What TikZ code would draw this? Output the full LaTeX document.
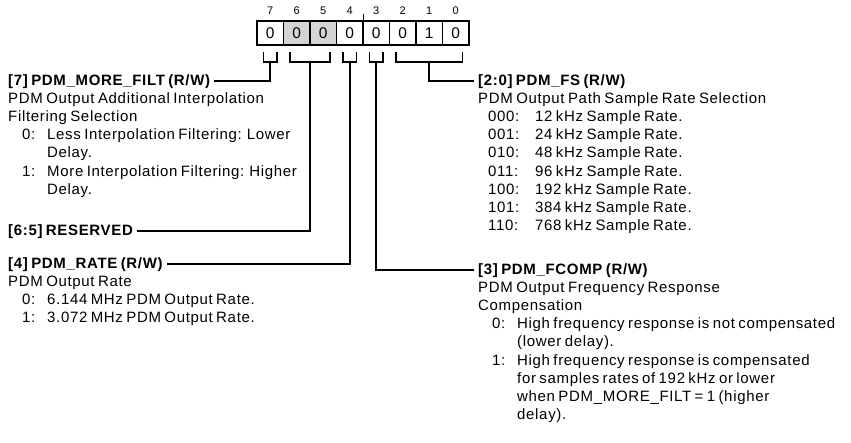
\documentclass[tikz,border=0pt]{standalone}
\usepackage{fontspec}
\setmainfont{Liberation Sans}[LetterSpace=4.5,WordSpace=0.7]
\newcommand\bodysize{\fontsize{15}{18.2}\selectfont}
\newcommand\itm[2]{\hspace*{14pt}\makebox[25pt][l]{#1}#2}
\newcommand\cnt[1]{\hspace*{39pt}#1}
\newcommand\fsitm[2]{\hspace*{10pt}\makebox[47pt][l]{#1}#2}
\begin{document}
\begin{tikzpicture}[x=1pt,y=-1pt,
  body/.style={anchor=base west, inner sep=0pt, font=\bodysize},
  ttl/.style={anchor=base west, inner sep=0pt, font=\bodysize\bfseries},
  bitbox/.style={draw, line width=1.6pt, minimum width=26.5pt, minimum height=24pt, inner sep=0pt, font=\fontsize{15.5}{18}\selectfont},
  bitnum/.style={inner sep=0pt, font=\fontsize{11}{13}\selectfont},
  brk/.style={line width=1.9pt, line join=miter},
  lead/.style={line width=1.9pt, shorten >=4pt}]
\useasboundingbox (0,0) rectangle (851,442);
\definecolor{resgray}{RGB}{212,212,212}
% bit boxes
\foreach \b/\v/\c in {7/0/white,6/0/resgray,5/0/resgray,4/0/white,3/0/white,2/0/white,1/1/white,0/0/white}{
  \node[bitbox, fill=\c] (v\b) at ({270.25+(7-\b)*26.5},33) {\v};
  \node[bitnum] (n\b) at ({270.25+(7-\b)*26.5},11) {\b};
}
\draw[line width=1pt] (v4.north east) -- ++(0,-6);
% brackets
\draw[brk] (263.5,52) -- (263.5,62) -- (277,62) -- (277,52);
\draw[brk] (290,52) -- (290,62) -- (330,62) -- (330,52);
\draw[brk] (343,52) -- (343,62) -- (356.5,62) -- (356.5,52);
\draw[brk] (369.5,52) -- (369.5,62) -- (383,62) -- (383,52);
\draw[brk] (396,52) -- (396,62) -- (462.5,62) -- (462.5,52);
\coordinate (s7) at (270.25,62);
\coordinate (s65) at (310,62);
\coordinate (s4) at (349.75,62);
\coordinate (s3) at (376.25,62);
\coordinate (s20) at (429.25,62);
% left texts
\node[ttl] (t7) at (8,85) {[7] PDM\_MORE\_FILT (R/W)};
\node[body] (d7) at (8,103.2) {\begin{tabular}[t]{@{}l@{}}
PDM Output Additional Interpolation\\
Filtering Selection\\
\itm{0:}{Less Interpolation Filtering: Lower}\\
\cnt{Delay.}\\
\itm{1:}{More Interpolation Filtering: Higher}\\
\cnt{Delay.}
\end{tabular}};
\node[ttl] (t65) at (8,235) {[6:5] RESERVED};
\node[ttl] (t4) at (8,268) {[4] PDM\_RATE (R/W)};
\node[body] (d4) at (8,286.2) {\begin{tabular}[t]{@{}l@{}}
PDM Output Rate\\
\itm{0:}{6.144 MHz PDM Output Rate.}\\
\itm{1:}{3.072 MHz PDM Output Rate.}
\end{tabular}};
% right texts
\node[ttl] (t20) at (478,85) {[2:0] PDM\_FS (R/W)};
\node[body] (d20) at (478,103.2) {\begin{tabular}[t]{@{}l@{}}
PDM Output Path Sample Rate Selection\\
\fsitm{000:}{12 kHz Sample Rate.}\\
\fsitm{001:}{24 kHz Sample Rate.}\\
\fsitm{010:}{48 kHz Sample Rate.}\\
\fsitm{011:}{96 kHz Sample Rate.}\\
\fsitm{100:}{192 kHz Sample Rate.}\\
\fsitm{101:}{384 kHz Sample Rate.}\\
\fsitm{110:}{768 kHz Sample Rate.}
\end{tabular}};
\node[ttl] (t3) at (478,274) {[3] PDM\_FCOMP (R/W)};
\node[body] (d3) at (478,292.2) {\begin{tabular}[t]{@{}l@{}}
PDM Output Frequency Response\\
Compensation\\
\itm{0:}{High frequency response is not compensated}\\
\cnt{(lower delay).}\\
\itm{1:}{High frequency response is compensated}\\
\cnt{for samples rates of 192 kHz or lower}\\
\cnt{when PDM\_MORE\_FILT = 1 (higher}\\
\cnt{delay).}
\end{tabular}};
% leaders
\draw[lead] (s7) |- (t7.east);
\draw[lead] (s65) |- (t65.east);
\draw[lead] (s4) |- (t4.east);
\draw[lead] (s3) |- (t3.west);
\draw[lead] (s20) |- (t20.west);
\end{tikzpicture}
\end{document}
